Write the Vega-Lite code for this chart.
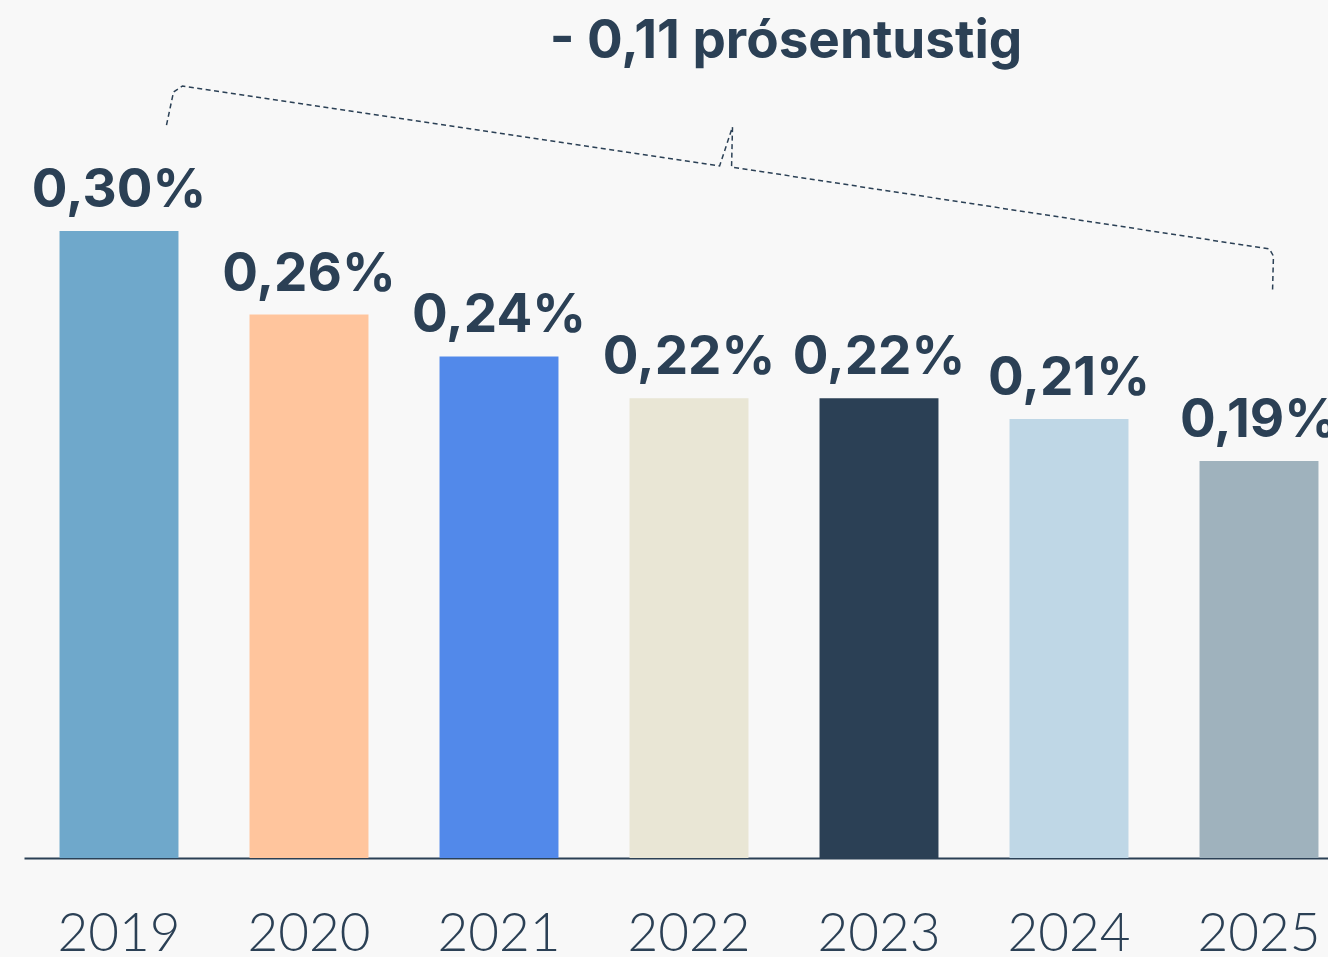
{
  "$schema": "https://vega.github.io/schema/vega-lite/v6.json",
  "width": 1304,
  "height": 778,
  "autosize": {"type": "none"},
  "padding": {"left": 24, "top": 80, "right": 0, "bottom": 99},
  "background": "#f8f8f8",
  "config": {"view": {"stroke": null}},
  "title": {
    "text": "- 0,11 prósentustig",
    "font": "Inter",
    "fontSize": 53,
    "fontWeight": "bold",
    "color": "#2b4055",
    "anchor": "middle",
    "frame": "group",
    "dx": 110,
    "baseline": "alphabetic",
    "offset": -31
  },
  "layer": [
    {
      "data": {
        "values": [
          {"year": "2019", "value": 0.30, "label": "0,30%"},
          {"year": "2020", "value": 0.26, "label": "0,26%"},
          {"year": "2021", "value": 0.24, "label": "0,24%"},
          {"year": "2022", "value": 0.22, "label": "0,22%"},
          {"year": "2023", "value": 0.22, "label": "0,22%"},
          {"year": "2024", "value": 0.21, "label": "0,21%"},
          {"year": "2025", "value": 0.19, "label": "0,19%"}
        ]
      },
      "encoding": {
        "x": {
          "field": "year",
          "type": "ordinal",
          "scale": {"range": [0, 1330], "paddingInner": 0.374, "paddingOuter": 0.187},
          "axis": {
            "title": null,
            "ticks": false,
            "domainColor": "#2b4055",
            "domainWidth": 2,
            "labelFont": "Lato",
            "labelFontWeight": 300,
            "labelFontSize": 53,
            "labelColor": "#2b4055",
            "labelBaseline": "alphabetic",
            "labelPadding": 92,
            "labelAngle": 0,
            "grid": false
          }
        },
        "y": {
          "field": "value",
          "type": "quantitative",
          "scale": {"domain": [0, 0.37225], "nice": false, "zero": true},
          "axis": null
        }
      },
      "layer": [
        {
          "mark": {"type": "bar"},
          "encoding": {
            "color": {
              "field": "year",
              "type": "nominal",
              "scale": {
                "domain": ["2019", "2020", "2021", "2022", "2023", "2024", "2025"],
                "range": ["#6fa8cb", "#ffc59d", "#5289ea", "#e9e6d5", "#2b4055", "#bfd7e6", "#9fb2bd"]
              },
              "legend": null
            }
          }
        },
        {
          "mark": {
            "type": "text",
            "font": "Inter",
            "fontSize": 53,
            "fontWeight": "bold",
            "color": "#2b4055",
            "baseline": "alphabetic",
            "align": "center",
            "dy": -24
          },
          "encoding": {"text": {"field": "label"}}
        }
      ]
    },
    {
      "data": {
        "values": [
          {"i": 1, "xi": 0.250, "v": 0.3507},
          {"i": 2, "xi": 0.287, "v": 0.3665},
          {"i": 3, "xi": 0.334, "v": 0.3694},
          {"i": 4, "xi": 3.161, "v": 0.3311},
          {"i": 5, "xi": 3.229, "v": 0.3498},
          {"i": 6, "xi": 3.224, "v": 0.3306},
          {"i": 7, "xi": 6.055, "v": 0.2914},
          {"i": 8, "xi": 6.076, "v": 0.2880},
          {"i": 9, "xi": 6.071, "v": 0.2703}
        ]
      },
      "mark": {"type": "line", "strokeDash": [5, 3.5], "strokeWidth": 1.5, "color": "#2b4055"},
      "encoding": {
        "x": {
          "field": "xi",
          "type": "quantitative",
          "scale": {"domain": [-0.5, 6.5], "range": [0, 1330], "nice": false, "zero": false},
          "axis": null
        },
        "y": {
          "field": "v",
          "type": "quantitative",
          "scale": {"domain": [0, 0.37225], "nice": false, "zero": true},
          "axis": null
        },
        "order": {"field": "i", "type": "quantitative"}
      }
    }
  ],
  "resolve": {"scale": {"x": "independent"}}
}
